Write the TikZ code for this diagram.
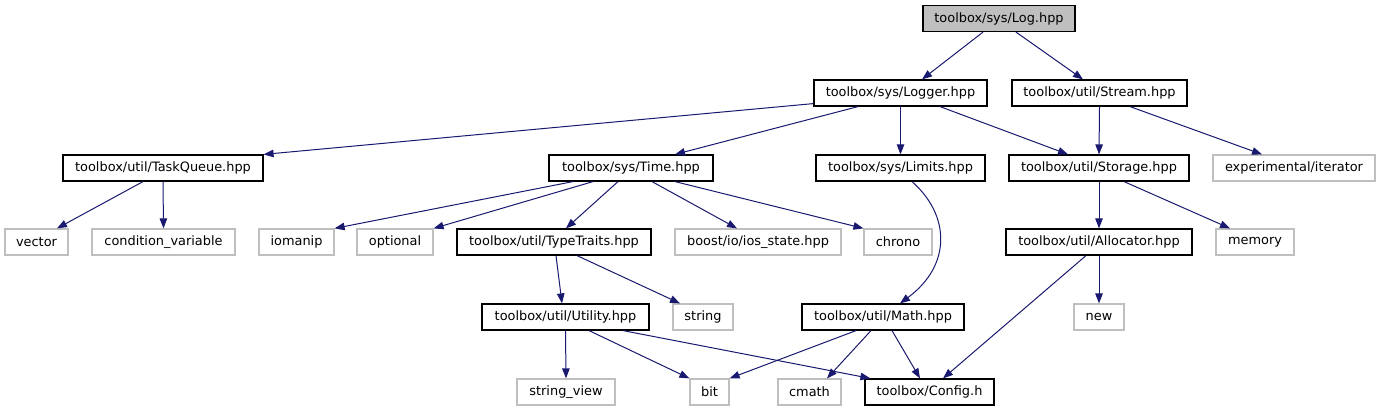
\documentclass[tikz,border=0pt]{standalone}
\usepackage{fontspec}
\setmainfont{DejaVu Sans}
\usetikzlibrary{arrows.meta}
\definecolor{edgecol}{HTML}{191970}
\definecolor{sysgray}{HTML}{BFBFBF}
\tikzset{
  filebox/.style={draw=black, line width=1.2pt, fill=white, rectangle, inner sep=0pt,
    minimum height=26pt, font=\fontsize{12.9}{15}\selectfont},
  sysbox/.style={filebox, draw=sysgray},
  rootbox/.style={filebox, fill=sysgray},
  edge/.style={draw=edgecol, line width=1pt, -{Triangle[length=10pt,width=7.5pt,fill=edgecol]}}
}
\begin{document}
\begin{tikzpicture}[x=1pt,y=-1pt]
\useasboundingbox (0,0) rectangle (1380,411);
% row 0
\node[rootbox, minimum width=152pt] (log) at (999,18.5) {toolbox/sys/Log.hpp};
% row 1
\node[filebox, minimum width=173pt] (logger) at (900.5,93) {toolbox/sys/Logger.hpp};
\node[filebox, minimum width=175pt] (stream) at (1099.5,93) {toolbox/util/Stream.hpp};
% row 2
\node[filebox, minimum width=200pt] (taskq) at (163,168) {toolbox/util/TaskQueue.hpp};
\node[filebox, minimum width=164pt] (time) at (631,168) {toolbox/sys/Time.hpp};
\node[filebox, minimum width=169pt] (limits) at (900.5,168) {toolbox/sys/Limits.hpp};
\node[filebox, minimum width=180pt] (storage) at (1099,168) {toolbox/util/Storage.hpp};
\node[sysbox, minimum width=162pt] (expit) at (1294,168) {experimental/iterator};
% row 3
\node[sysbox, minimum width=63pt] (vector) at (36.5,242) {vector};
\node[sysbox, minimum width=143pt] (cond) at (163.5,242) {condition\_variable};
\node[sysbox, minimum width=75pt] (iomanip) at (296.5,242) {iomanip};
\node[sysbox, minimum width=76pt] (optional) at (395,242) {optional};
\node[filebox, minimum width=194pt] (typetraits) at (554,242) {toolbox/util/TypeTraits.hpp};
\node[sysbox, minimum width=166pt] (boost) at (758,242) {boost/io/ios\_state.hpp};
\node[sysbox, minimum width=68pt] (chrono) at (898,242) {chrono};
\node[filebox, minimum width=186pt] (allocator) at (1099,242) {toolbox/util/Allocator.hpp};
\node[sysbox, minimum width=78pt] (memory) at (1255,242) {memory};
% row 4
\node[filebox, minimum width=167pt] (utility) at (565.5,317) {toolbox/util/Utility.hpp};
\node[sysbox, minimum width=60pt] (string) at (703,317) {string};
\node[filebox, minimum width=162pt] (math) at (883,317) {toolbox/util/Math.hpp};
\node[sysbox, minimum width=50pt] (new) at (1099,317) {new};
% row 5
\node[sysbox, minimum width=98pt] (strview) at (566,392) {string\_view};
\node[sysbox, minimum width=39pt] (bit) at (709.5,392) {bit};
\node[sysbox, minimum width=63pt] (cmath) at (809.5,392) {cmath};
\node[filebox, minimum width=129pt] (config) at (929.5,392) {toolbox/Config.h};

% edges
\draw[edge] ([xshift=-16pt]log.south) -- ([xshift=21.5pt]logger.north);
\draw[edge] ([xshift=17pt]log.south) -- ([xshift=-16.5pt]stream.north);

\draw[edge] ([yshift=3pt]logger.south west) -- (taskq.north east);
\draw[edge] ([xshift=-42.5pt]logger.south) -- ([xshift=44pt]time.north);
\draw[edge] (logger.south) -- (limits.north);
\draw[edge] ([xshift=39.5pt]logger.south) -- ([xshift=-31pt]storage.north);

\draw[edge] (stream.south) -- (storage.north);
\draw[edge] ([xshift=30.5pt]stream.south) -- ([xshift=-32pt]expit.north);

\draw[edge] ([xshift=-20pt]taskq.south) -- ([xshift=20.5pt]vector.north);
\draw[edge] (taskq.south) -- (cond.north);

\draw[edge] ([xshift=-58pt]time.south) -- (iomanip.north east);
\draw[edge] ([xshift=-38pt]time.south) -- (optional.north east);
\draw[edge] ([xshift=-13pt]time.south) -- ([xshift=12pt]typetraits.north);
\draw[edge] ([xshift=21pt]time.south) -- ([xshift=-21pt]boost.north);
\draw[edge] ([xshift=44pt]time.south) -- (chrono.north west);

\draw[edge] ([xshift=11.5pt]limits.south) .. controls (950,215) and (952,265) .. ([xshift=17pt]math.north);

\draw[edge] (storage.south) -- (allocator.north);
\draw[edge] ([xshift=25pt]storage.south) -- ([xshift=-25pt]memory.north);

\draw[edge] ([xshift=2pt]typetraits.south) -- ([xshift=-3.5pt]utility.north);
\draw[edge] ([xshift=23pt]typetraits.south) -- ([xshift=-23pt]string.north);

\draw[edge] (utility.south) -- (strview.north);
\draw[edge] ([xshift=23.5pt]utility.south) -- (bit.north west);
\draw[edge] ([xshift=57.5pt]utility.south) -- ([xshift=6pt]config.north west);

\draw[edge] ([xshift=-27pt]math.south) -- (bit.north east);
\draw[edge] ([xshift=-12pt]math.south) -- ([xshift=17.5pt]cmath.north);
\draw[edge] ([xshift=9pt]math.south) -- ([xshift=-9.5pt]config.north);

\draw[edge] (allocator.south) -- (new.north);
\draw[edge] ([xshift=-13pt]allocator.south) -- ([xshift=13.5pt]config.north);
\end{tikzpicture}
\end{document}
